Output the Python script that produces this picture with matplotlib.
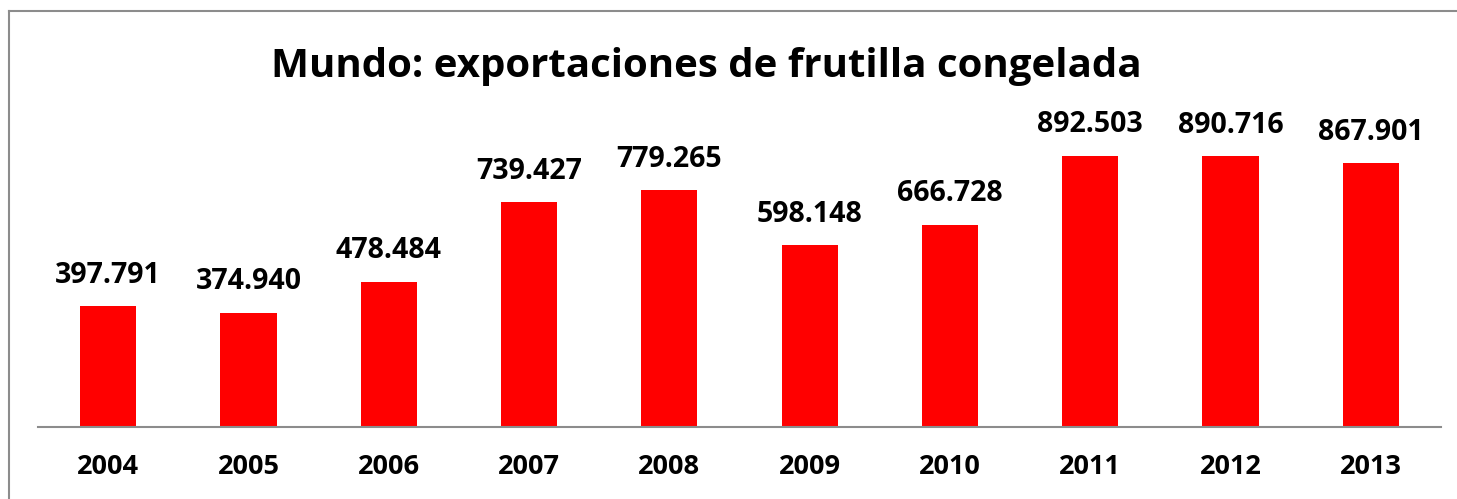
import matplotlib.pyplot as plt
from matplotlib.lines import Line2D

years = ['2004', '2005', '2006', '2007', '2008', '2009', '2010', '2011', '2012', '2013']
values = [397.791, 374.940, 478.484, 739.427, 779.265, 598.148, 666.728, 892.503, 890.716, 867.901]
labels = ['397.791', '374.940', '478.484', '739.427', '779.265', '598.148', '666.728', '892.503', '890.716', '867.901']

plt.rcParams['font.family'] = ['Open Sans', 'DejaVu Sans']

fig = plt.figure(figsize=(14.57, 4.99), dpi=100)
ax = fig.add_axes([0.0261, 0.1443, 0.9629, 0.6086])

x = range(len(years))
ax.bar(x, values, width=0.4, color='#ff0000')
for i, v in enumerate(values):
    ax.annotate(labels[i], (i, v), xytext=(0, 12), textcoords='offset points',
                ha='center', va='bottom', fontsize=20.5, fontweight='bold', annotation_clip=False)

ax.set_xlim(-0.5, len(years) - 0.5)
ax.set_ylim(0, 1000)
ax.set_xticks(list(x))
ax.set_xticklabels(years, fontsize=19.5, fontweight='bold')
ax.tick_params(axis='x', length=0, pad=19.5)
ax.set_yticks([])
for s in ['top', 'right', 'left']:
    ax.spines[s].set_visible(False)
ax.spines['bottom'].set_color('#8c8c8c')
ax.spines['bottom'].set_linewidth(1.5)

fig.text(706 / 1457, 1 - 66 / 499, 'Mundo: exportaciones de frutilla congelada',
         ha='center', va='center', fontsize=29, fontweight='bold')

# outer chart border
fig.add_artist(Line2D([9 / 1457, 9 / 1457], [0, 1 - 11 / 499], transform=fig.transFigure,
                      color='#8c8c8c', lw=1.5))
fig.add_artist(Line2D([9 / 1457, 1], [1 - 11 / 499, 1 - 11 / 499], transform=fig.transFigure,
                      color='#8c8c8c', lw=1.5))

plt.savefig('out.png', dpi=100)
